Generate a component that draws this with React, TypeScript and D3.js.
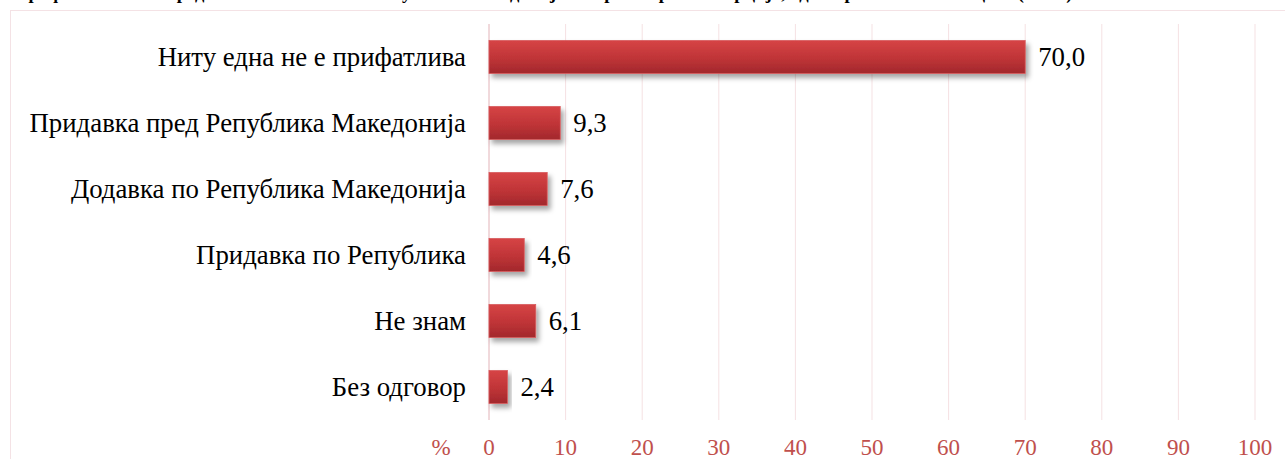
import React from "react";
import * as d3 from "d3";

// answers and shares (%)
const categories = [
  "Ниту една не е прифатлива",
  "Придавка пред Република Македонија",
  "Додавка по Република Македонија",
  "Придавка по Република",
  "Не знам",
  "Без одговор",
];
const values = [70.0, 9.3, 7.6, 4.6, 6.1, 2.4];
const ticks = [0, 10, 20, 30, 40, 50, 60, 70, 80, 90, 100];
const title =
  "Прифатливост на предложените имиња за Република Македонија во преговорите со Грција, одговори на испитаниците (во %)";

const width = 1285;
const height = 459;
const fmt = (v: number) => v.toFixed(1).replace(".", ",");

export default function App() {
  const x = d3.scaleLinear().domain([0, 100]).range([489, 1255]);
  const y = d3
    .scaleBand<string>()
    .domain(categories)
    .range([24, 420])
    .paddingInner(0.5)
    .paddingOuter(0.25);

  const serif = "'Liberation Serif', 'Times New Roman', serif";

  return (
    <svg
      width={width}
      height={height}
      style={{ position: "absolute", left: 0, top: 0, display: "block", background: "#fff" }}
    >
      <defs>
        <linearGradient id="barFill" x1="0" y1="0" x2="0" y2="1">
          <stop offset="0%" stopColor="#d64445" />
          <stop offset="55%" stopColor="#bf3437" />
          <stop offset="100%" stopColor="#a2282c" />
        </linearGradient>
        <filter id="shadow" x="-10%" y="-30%" width="130%" height="180%">
          <feDropShadow dx="3" dy="4" stdDeviation="2.5" floodColor="#000" floodOpacity="0.35" />
        </filter>
      </defs>

      {/* title line, cut off by the top edge */}
      <text x={14} y={-1.5} fontFamily={serif} fontWeight="bold" fontSize={18.5} fill="#000">
        {title}
      </text>

      {/* chart frame */}
      <rect x={10.5} y={10.5} width={width} height={height} fill="none" stroke="#f4e2e5" />

      {/* gridlines */}
      {ticks.slice(1).map((t) => (
        <line key={t} x1={x(t)} x2={x(t)} y1={24} y2={420} stroke="#f5e1e3" strokeWidth={1} />
      ))}
      <line x1={x(0)} x2={x(0)} y1={24} y2={420} stroke="#e2b3b8" strokeWidth={1} />

      {/* bars */}
      {categories.map((c, i) => (
        <rect
          key={c}
          x={x(0)}
          y={y(c)}
          width={x(values[i]) - x(0)}
          height={y.bandwidth()}
          fill="url(#barFill)"
          stroke="#d85b5d"
          strokeWidth={0.8}
          filter="url(#shadow)"
        />
      ))}

      {/* category labels */}
      {categories.map((c) => (
        <text
          key={c}
          x={466}
          y={(y(c) ?? 0) + y.bandwidth() / 2}
          dy="0.35em"
          textAnchor="end"
          fontFamily={serif}
          fontSize={26.8}
          fill="#000"
        >
          {c}
        </text>
      ))}

      {/* value labels */}
      {categories.map((c, i) => (
        <text
          key={c}
          x={x(values[i]) + 13}
          y={(y(c) ?? 0) + y.bandwidth() / 2}
          dy="0.35em"
          fontFamily={serif}
          fontSize={26.8}
          fill="#000"
        >
          {fmt(values[i])}
        </text>
      ))}

      {/* axis labels */}
      {ticks.map((t) => (
        <text
          key={t}
          x={x(t)}
          y={455}
          textAnchor="middle"
          fontFamily={serif}
          fontSize={23}
          fill="#c0504d"
        >
          {t}
        </text>
      ))}
      <text x={441} y={455} textAnchor="middle" fontFamily={serif} fontSize={23} fill="#c0504d">
        %
      </text>
    </svg>
  );
}
